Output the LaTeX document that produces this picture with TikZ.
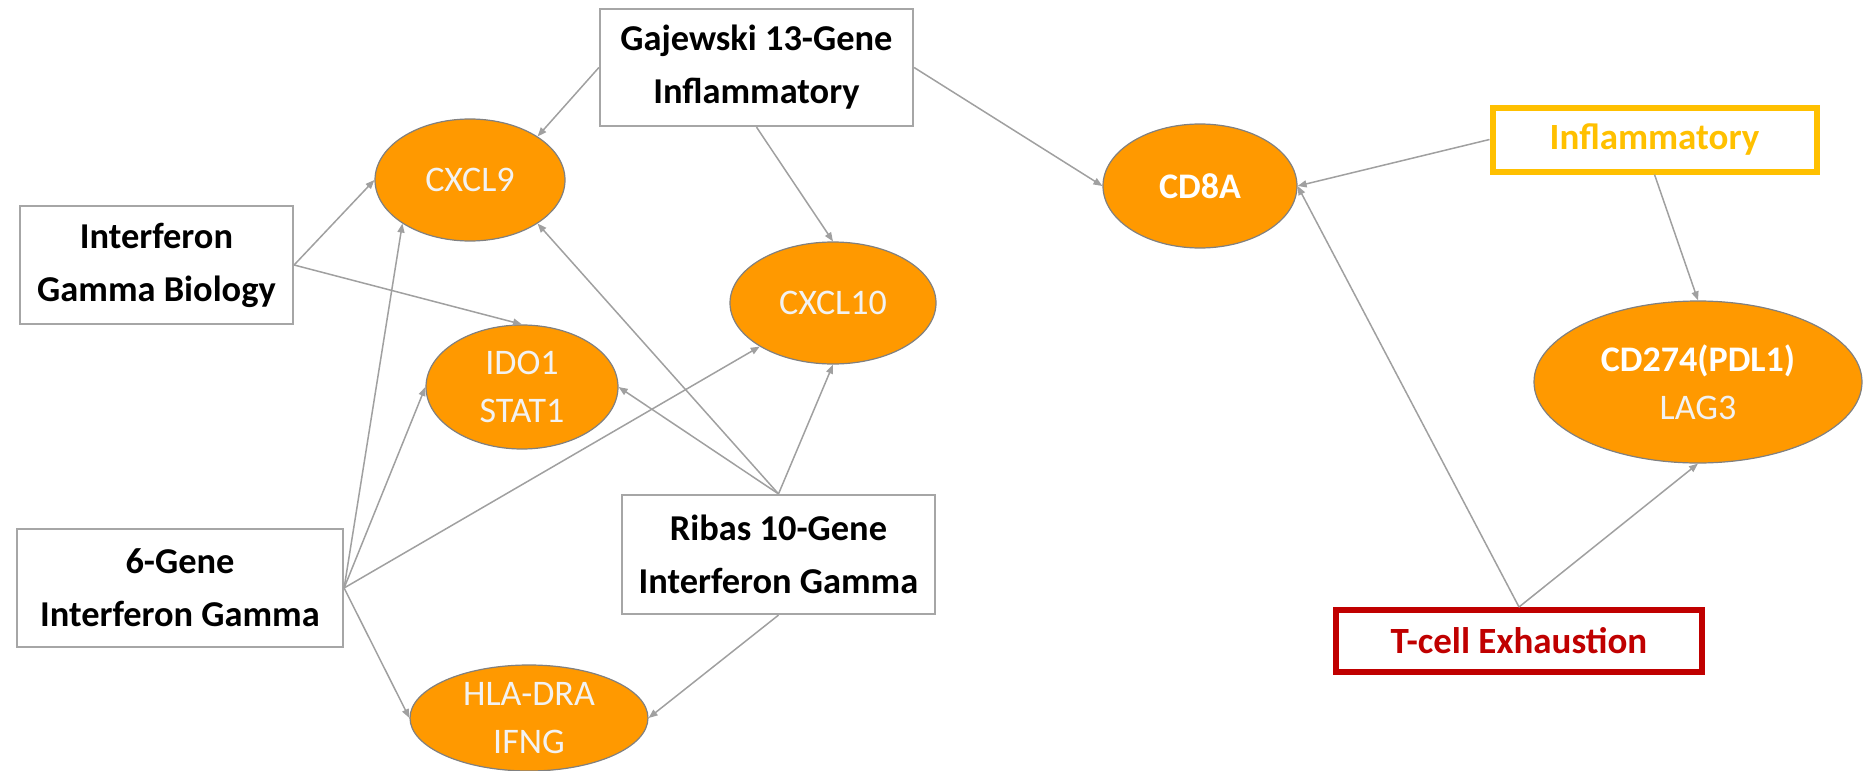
\documentclass[tikz,border=0pt]{standalone}
\usepackage{fontspec}
\setmainfont{Carlito}
\usetikzlibrary{arrows.meta,shapes.geometric}

\definecolor{geneorange}{RGB}{255,153,0}
\definecolor{genetext}{RGB}{242,242,242}
\definecolor{boxgray}{RGB}{166,166,166}
\definecolor{rimgray}{RGB}{128,128,128}
\definecolor{linkgray}{RGB}{160,160,160}
\definecolor{infyellow}{RGB}{255,192,0}
\definecolor{exhred}{RGB}{192,0,0}

\tikzset{
  sigbox/.style={draw=boxgray, line width=1.1pt, fill=white, rectangle, align=center,
    inner sep=0pt, font=\fontsize{18.2}{26.5}\selectfont\bfseries},
  thickbox/.style={rectangle, fill=white, line width=3pt, align=center, inner sep=0pt,
    font=\fontsize{18.5}{26.5}\selectfont\bfseries},
  gene/.style={ellipse, draw=rimgray, line width=0.6pt, fill=geneorange, text=genetext,
    align=center, inner sep=0pt, font=\fontsize{18}{24}\selectfont},
  link/.style={draw=linkgray, line width=0.75pt, -{Triangle[length=4.5pt,width=3.5pt]}}
}

\begin{document}
\begin{tikzpicture}[x=0.5pt, y=-0.5pt]
\useasboundingbox (0,0) rectangle (1870,771);

% gene nodes
\node[gene, minimum width=95pt, minimum height=61pt] (cxcl9) at (470,180) {CXCL9};
\node[gene, minimum width=103pt, minimum height=61pt] (cxcl10) at (833,303) {CXCL10};
\node[gene, minimum width=96pt, minimum height=62pt] (ido) at (522,387) {IDO1\\STAT1};
\node[gene, minimum width=119pt, minimum height=53pt] (hla) at (529,718) {HLA-DRA\\IFNG};
\node[gene, minimum width=97pt, minimum height=62pt, text=white, font=\fontsize{18}{24}\selectfont\bfseries] (cd8a) at (1200,186) {CD8A};
\node[gene, minimum width=164pt, minimum height=81pt] (cd274) at (1698,382)
  {\textcolor{white}{\bfseries CD274(PDL1)}\\LAG3};

% signature boxes
\node[sigbox, minimum width=156.5pt, minimum height=58.5pt] (gaj) at (756.5,67.5) {Gajewski 13-Gene\\Inflammatory};
\node[sigbox, minimum width=136.5pt, minimum height=59pt] (igb) at (156.5,265) {Interferon\\Gamma Biology};
\node[sigbox, minimum width=163pt, minimum height=59pt] (six) at (180,588) {6-Gene\\Interferon Gamma};
\node[sigbox, minimum width=156.5pt, minimum height=59.5pt] (ribas) at (778.5,554.5) {Ribas 10-Gene\\Interferon Gamma};
\node[thickbox, draw=infyellow, text=infyellow, minimum width=162pt, minimum height=32pt] (infl) at (1654.5,139.5) {Inflammatory};
\node[thickbox, draw=exhred, text=exhred, minimum width=183pt, minimum height=31pt] (tcell) at (1519,641) {T-cell Exhaustion};

% connectors
\draw[link] (gaj.west) -- (cxcl9.north east);
\draw[link] (gaj.south) -- (cxcl10.north);
\draw[link] (gaj.east) -- (cd8a.west);

\draw[link] (igb.east) -- (cxcl9.west);
\draw[link] (igb.east) -- (ido.north);

\draw[link] (six.east) -- (cxcl9.south west);
\draw[link] (six.east) -- (ido.west);
\draw[link] (six.east) -- (cxcl10.south west);
\draw[link] (six.east) -- (hla.west);

\draw[link] (ribas.north) -- (cxcl9.south east);
\draw[link] (ribas.north) -- (ido.east);
\draw[link] (ribas.north) -- (cxcl10.south);
\draw[link] (ribas.south) -- (hla.east);

\draw[link] (infl.west) -- (cd8a.east);
\draw[link] (infl.south) -- (cd274.north);
\draw[link] (tcell.north) -- (cd8a.east);
\draw[link] (tcell.north) -- (cd274.south);
\end{tikzpicture}
\end{document}
